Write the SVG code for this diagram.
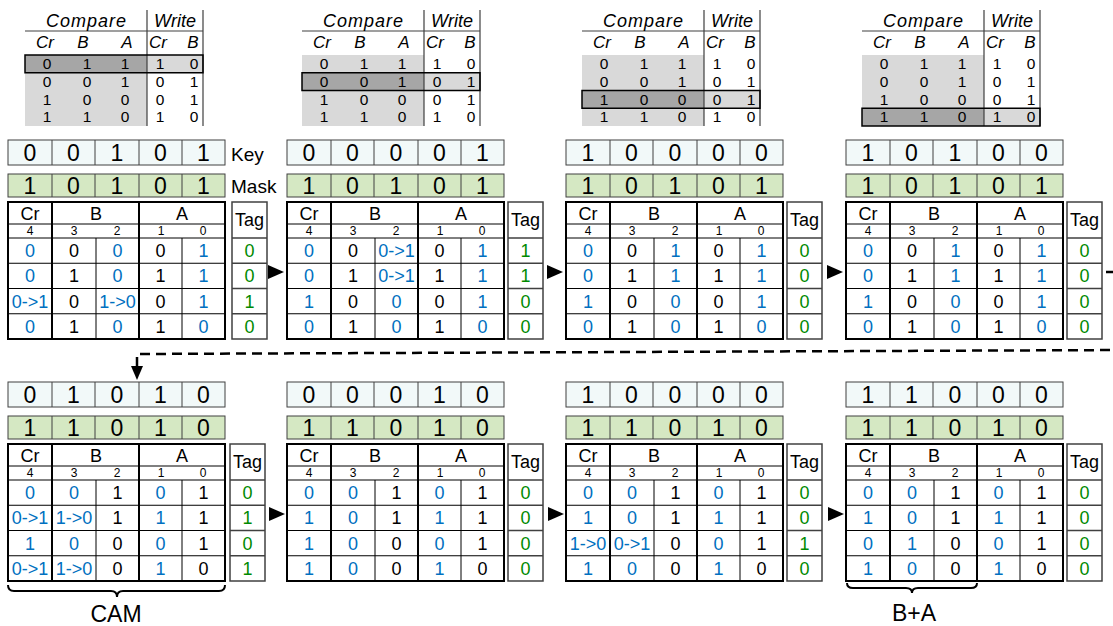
<svg xmlns="http://www.w3.org/2000/svg" width="1113" height="626" viewBox="0 0 1113 626">
<style>
text{font-family:'Liberation Sans',Arial,sans-serif;text-anchor:middle;fill:#000}
.kd{font-size:23px}
.h{font-size:18px}
.bn{font-size:12px}
.d{font-size:18px}
.td{font-size:15.5px}
.b{fill:#0070c0}
.g{fill:#008a00}
.it{font-style:italic;font-size:18px}
.ih{font-style:italic;font-size:17px}
.tt{font-size:18px}
.lbl{font-size:19px;text-anchor:start}
.big{font-size:23px}
.kbox{fill:#f2f9f9;stroke:#404040;stroke-width:1}
.mbox{fill:#d5e8c3;stroke:#404040;stroke-width:1}
.cell{stroke:#404040;stroke-width:1;fill:none}
.thin{stroke:#000;stroke-width:1;fill:none}
.thick{stroke:#000;stroke-width:2;fill:none}
.tagbox{fill:#fff;stroke:#404040;stroke-width:1.5}
.ttl{stroke:#404040;stroke-width:1.2;fill:none}
.arr{fill:#000}
.dash{stroke:#000;stroke-width:2.5;fill:none;stroke-dasharray:10 6}
.brace{stroke:#000;stroke-width:2;fill:none}
</style>
<defs>
<g id="frame">
<rect x="0" y="0" width="217" height="25" class="kbox"/>
<path d="M44,0V25M87,0V25M131,0V25M174,0V25" class="cell"/>
<rect x="0" y="34" width="217" height="23" class="mbox"/>
<path d="M44,34V57M87,34V57M131,34V57M174,34V57" class="cell"/>
<rect x="0" y="62" width="217" height="137" fill="#fff"/>
<path d="M0,84H217M0,98H217M0,123.25H217M0,148.5H217M0,173.75H217M88,98V199M174,98V199" class="thin"/>
<path d="M44,62V199M131,62V199" class="thick"/>
<rect x="0" y="62" width="217" height="137" class="thick"/>
</g>
<g id="tag">
<rect x="0" y="62" width="35" height="137" class="tagbox"/>
<path d="M0,98H35M0,123.25H35M0,148.5H35M0,173.75H35" class="tagbox"/>
</g>
<g id="tt">
<path d="M0,31H178" class="ttl"/>
<rect x="0" y="55" width="122" height="71" fill="#d9d9d9"/>
</g>
<g id="ttlines">
<path d="M122,10V126M178,10V126" class="ttl"/>
</g>
</defs>

<!-- truth tables -->
<g id="tt1" transform="translate(25,0)">
<use href="#tt"/>
<rect x="0" y="55" width="122" height="17.75" fill="#a6a6a6"/><rect x="122" y="55" width="56" height="17.75" fill="#d9d9d9"/>
<use href="#ttlines"/>
<rect x="0" y="55" width="178" height="17.75" fill="none" stroke="#000" stroke-width="1.5"/>
<text class="it" x="61" y="27" textLength="80">Compare</text><text class="it" x="150" y="27">Write</text>
<text class="ih" x="20" y="48">Cr</text><text class="ih" x="58" y="48">B</text><text class="ih" x="102" y="48">A</text><text class="ih" x="133" y="48">Cr</text><text class="ih" x="168" y="48">B</text>
<text class="td" x="22" y="69">0</text><text class="td" x="62" y="69">1</text><text class="td" x="100" y="69">1</text><text class="td" x="135" y="69">1</text><text class="td" x="169" y="69">0</text>
<text class="td" x="22" y="86.75">0</text><text class="td" x="62" y="86.75">0</text><text class="td" x="100" y="86.75">1</text><text class="td" x="135" y="86.75">0</text><text class="td" x="169" y="86.75">1</text>
<text class="td" x="22" y="104.5">1</text><text class="td" x="62" y="104.5">0</text><text class="td" x="100" y="104.5">0</text><text class="td" x="135" y="104.5">0</text><text class="td" x="169" y="104.5">1</text>
<text class="td" x="22" y="122.25">1</text><text class="td" x="62" y="122.25">1</text><text class="td" x="100" y="122.25">0</text><text class="td" x="135" y="122.25">1</text><text class="td" x="169" y="122.25">0</text>
</g>
<g id="tt2" transform="translate(302,0)">
<use href="#tt"/>
<rect x="0" y="72.75" width="122" height="17.75" fill="#a6a6a6"/><rect x="122" y="72.75" width="56" height="17.75" fill="#d9d9d9"/>
<use href="#ttlines"/>
<rect x="0" y="72.75" width="178" height="17.75" fill="none" stroke="#000" stroke-width="1.5"/>
<text class="it" x="61" y="27" textLength="80">Compare</text><text class="it" x="150" y="27">Write</text>
<text class="ih" x="20" y="48">Cr</text><text class="ih" x="58" y="48">B</text><text class="ih" x="102" y="48">A</text><text class="ih" x="133" y="48">Cr</text><text class="ih" x="168" y="48">B</text>
<text class="td" x="22" y="69">0</text><text class="td" x="62" y="69">1</text><text class="td" x="100" y="69">1</text><text class="td" x="135" y="69">1</text><text class="td" x="169" y="69">0</text>
<text class="td" x="22" y="86.75">0</text><text class="td" x="62" y="86.75">0</text><text class="td" x="100" y="86.75">1</text><text class="td" x="135" y="86.75">0</text><text class="td" x="169" y="86.75">1</text>
<text class="td" x="22" y="104.5">1</text><text class="td" x="62" y="104.5">0</text><text class="td" x="100" y="104.5">0</text><text class="td" x="135" y="104.5">0</text><text class="td" x="169" y="104.5">1</text>
<text class="td" x="22" y="122.25">1</text><text class="td" x="62" y="122.25">1</text><text class="td" x="100" y="122.25">0</text><text class="td" x="135" y="122.25">1</text><text class="td" x="169" y="122.25">0</text>
</g>
<g id="tt3" transform="translate(582,0)">
<use href="#tt"/>
<rect x="0" y="90.5" width="122" height="17.75" fill="#a6a6a6"/><rect x="122" y="90.5" width="56" height="17.75" fill="#d9d9d9"/>
<use href="#ttlines"/>
<rect x="0" y="90.5" width="178" height="17.75" fill="none" stroke="#000" stroke-width="1.5"/>
<text class="it" x="61" y="27" textLength="80">Compare</text><text class="it" x="150" y="27">Write</text>
<text class="ih" x="20" y="48">Cr</text><text class="ih" x="58" y="48">B</text><text class="ih" x="102" y="48">A</text><text class="ih" x="133" y="48">Cr</text><text class="ih" x="168" y="48">B</text>
<text class="td" x="22" y="69">0</text><text class="td" x="62" y="69">1</text><text class="td" x="100" y="69">1</text><text class="td" x="135" y="69">1</text><text class="td" x="169" y="69">0</text>
<text class="td" x="22" y="86.75">0</text><text class="td" x="62" y="86.75">0</text><text class="td" x="100" y="86.75">1</text><text class="td" x="135" y="86.75">0</text><text class="td" x="169" y="86.75">1</text>
<text class="td" x="22" y="104.5">1</text><text class="td" x="62" y="104.5">0</text><text class="td" x="100" y="104.5">0</text><text class="td" x="135" y="104.5">0</text><text class="td" x="169" y="104.5">1</text>
<text class="td" x="22" y="122.25">1</text><text class="td" x="62" y="122.25">1</text><text class="td" x="100" y="122.25">0</text><text class="td" x="135" y="122.25">1</text><text class="td" x="169" y="122.25">0</text>
</g>
<g id="tt4" transform="translate(862,0)">
<use href="#tt"/>
<rect x="0" y="108.25" width="122" height="17.75" fill="#a6a6a6"/><rect x="122" y="108.25" width="56" height="17.75" fill="#d9d9d9"/>
<use href="#ttlines"/>
<rect x="0" y="108.25" width="178" height="17.75" fill="none" stroke="#000" stroke-width="1.5"/>
<text class="it" x="61" y="27" textLength="80">Compare</text><text class="it" x="150" y="27">Write</text>
<text class="ih" x="20" y="48">Cr</text><text class="ih" x="58" y="48">B</text><text class="ih" x="102" y="48">A</text><text class="ih" x="133" y="48">Cr</text><text class="ih" x="168" y="48">B</text>
<text class="td" x="22" y="69">0</text><text class="td" x="62" y="69">1</text><text class="td" x="100" y="69">1</text><text class="td" x="135" y="69">1</text><text class="td" x="169" y="69">0</text>
<text class="td" x="22" y="86.75">0</text><text class="td" x="62" y="86.75">0</text><text class="td" x="100" y="86.75">1</text><text class="td" x="135" y="86.75">0</text><text class="td" x="169" y="86.75">1</text>
<text class="td" x="22" y="104.5">1</text><text class="td" x="62" y="104.5">0</text><text class="td" x="100" y="104.5">0</text><text class="td" x="135" y="104.5">0</text><text class="td" x="169" y="104.5">1</text>
<text class="td" x="22" y="122.25">1</text><text class="td" x="62" y="122.25">1</text><text class="td" x="100" y="122.25">0</text><text class="td" x="135" y="122.25">1</text><text class="td" x="169" y="122.25">0</text>
</g>

<!-- panel 1 -->
<g id="p1" transform="translate(8,140)">
<use href="#frame"/><use href="#tag" x="224"/>
<text class="lbl" x="223" y="21">Key</text><text class="lbl" x="223" y="53">Mask</text>
<text class="kd" x="22" y="21">0</text><text class="kd" x="65.5" y="21">0</text><text class="kd" x="109" y="21">1</text><text class="kd" x="152.5" y="21">0</text><text class="kd" x="195.5" y="21">1</text>
<text class="kd" x="22" y="54">1</text><text class="kd" x="65.5" y="54">0</text><text class="kd" x="109" y="54">1</text><text class="kd" x="152.5" y="54">0</text><text class="kd" x="195.5" y="54">1</text>
<text class="h" x="22" y="80">Cr</text><text class="h" x="88" y="80">B</text><text class="h" x="174" y="80">A</text>
<text class="bn" x="22" y="95">4</text><text class="bn" x="66" y="95">3</text><text class="bn" x="109" y="95">2</text><text class="bn" x="153" y="95">1</text><text class="bn" x="195" y="95">0</text>
<text class="tt" x="241.5" y="86">Tag</text>
<text class="d b" x="22" y="117">0</text><text class="d" x="66" y="117">0</text><text class="d b" x="109.5" y="117">0</text><text class="d" x="152.5" y="117">0</text><text class="d b" x="195.5" y="117">1</text><text class="d g" x="241.5" y="117">0</text>
<text class="d b" x="22" y="142">0</text><text class="d" x="66" y="142">1</text><text class="d b" x="109.5" y="142">0</text><text class="d" x="152.5" y="142">1</text><text class="d b" x="195.5" y="142">1</text><text class="d g" x="241.5" y="142">0</text>
<text class="d b" x="22" y="167.5">0-&gt;1</text><text class="d" x="66" y="167.5">0</text><text class="d b" x="109.5" y="167.5">1-&gt;0</text><text class="d" x="152.5" y="167.5">0</text><text class="d b" x="195.5" y="167.5">1</text><text class="d g" x="241.5" y="167.5">1</text>
<text class="d b" x="22" y="192.5">0</text><text class="d" x="66" y="192.5">1</text><text class="d b" x="109.5" y="192.5">0</text><text class="d" x="152.5" y="192.5">1</text><text class="d b" x="195.5" y="192.5">0</text><text class="d g" x="241.5" y="192.5">0</text>
</g>

<!-- panel 2 -->
<g id="p2" transform="translate(287,140)">
<use href="#frame"/><use href="#tag" x="221"/>
<text class="kd" x="22" y="21">0</text><text class="kd" x="65.5" y="21">0</text><text class="kd" x="109" y="21">0</text><text class="kd" x="152.5" y="21">0</text><text class="kd" x="195.5" y="21">1</text>
<text class="kd" x="22" y="54">1</text><text class="kd" x="65.5" y="54">0</text><text class="kd" x="109" y="54">1</text><text class="kd" x="152.5" y="54">0</text><text class="kd" x="195.5" y="54">1</text>
<text class="h" x="22" y="80">Cr</text><text class="h" x="88" y="80">B</text><text class="h" x="174" y="80">A</text>
<text class="bn" x="22" y="95">4</text><text class="bn" x="66" y="95">3</text><text class="bn" x="109" y="95">2</text><text class="bn" x="153" y="95">1</text><text class="bn" x="195" y="95">0</text>
<text class="tt" x="238.5" y="86">Tag</text>
<text class="d b" x="22" y="117">0</text><text class="d" x="66" y="117">0</text><text class="d b" x="109.5" y="117">0-&gt;1</text><text class="d" x="152.5" y="117">0</text><text class="d b" x="195.5" y="117">1</text><text class="d g" x="238.5" y="117">1</text>
<text class="d b" x="22" y="142">0</text><text class="d" x="66" y="142">1</text><text class="d b" x="109.5" y="142">0-&gt;1</text><text class="d" x="152.5" y="142">1</text><text class="d b" x="195.5" y="142">1</text><text class="d g" x="238.5" y="142">1</text>
<text class="d b" x="22" y="167.5">1</text><text class="d" x="66" y="167.5">0</text><text class="d b" x="109.5" y="167.5">0</text><text class="d" x="152.5" y="167.5">0</text><text class="d b" x="195.5" y="167.5">1</text><text class="d g" x="238.5" y="167.5">0</text>
<text class="d b" x="22" y="192.5">0</text><text class="d" x="66" y="192.5">1</text><text class="d b" x="109.5" y="192.5">0</text><text class="d" x="152.5" y="192.5">1</text><text class="d b" x="195.5" y="192.5">0</text><text class="d g" x="238.5" y="192.5">0</text>
</g>

<!-- panel 3 -->
<g id="p3" transform="translate(566,140)">
<use href="#frame"/><use href="#tag" x="221"/>
<text class="kd" x="22" y="21">1</text><text class="kd" x="65.5" y="21">0</text><text class="kd" x="109" y="21">0</text><text class="kd" x="152.5" y="21">0</text><text class="kd" x="195.5" y="21">0</text>
<text class="kd" x="22" y="54">1</text><text class="kd" x="65.5" y="54">0</text><text class="kd" x="109" y="54">1</text><text class="kd" x="152.5" y="54">0</text><text class="kd" x="195.5" y="54">1</text>
<text class="h" x="22" y="80">Cr</text><text class="h" x="88" y="80">B</text><text class="h" x="174" y="80">A</text>
<text class="bn" x="22" y="95">4</text><text class="bn" x="66" y="95">3</text><text class="bn" x="109" y="95">2</text><text class="bn" x="153" y="95">1</text><text class="bn" x="195" y="95">0</text>
<text class="tt" x="238.5" y="86">Tag</text>
<text class="d b" x="22" y="117">0</text><text class="d" x="66" y="117">0</text><text class="d b" x="109.5" y="117">1</text><text class="d" x="152.5" y="117">0</text><text class="d b" x="195.5" y="117">1</text><text class="d g" x="238.5" y="117">0</text>
<text class="d b" x="22" y="142">0</text><text class="d" x="66" y="142">1</text><text class="d b" x="109.5" y="142">1</text><text class="d" x="152.5" y="142">1</text><text class="d b" x="195.5" y="142">1</text><text class="d g" x="238.5" y="142">0</text>
<text class="d b" x="22" y="167.5">1</text><text class="d" x="66" y="167.5">0</text><text class="d b" x="109.5" y="167.5">0</text><text class="d" x="152.5" y="167.5">0</text><text class="d b" x="195.5" y="167.5">1</text><text class="d g" x="238.5" y="167.5">0</text>
<text class="d b" x="22" y="192.5">0</text><text class="d" x="66" y="192.5">1</text><text class="d b" x="109.5" y="192.5">0</text><text class="d" x="152.5" y="192.5">1</text><text class="d b" x="195.5" y="192.5">0</text><text class="d g" x="238.5" y="192.5">0</text>
</g>

<!-- panel 4 -->
<g id="p4" transform="translate(846,140)">
<use href="#frame"/><use href="#tag" x="221"/>
<text class="kd" x="22" y="21">1</text><text class="kd" x="65.5" y="21">0</text><text class="kd" x="109" y="21">1</text><text class="kd" x="152.5" y="21">0</text><text class="kd" x="195.5" y="21">0</text>
<text class="kd" x="22" y="54">1</text><text class="kd" x="65.5" y="54">0</text><text class="kd" x="109" y="54">1</text><text class="kd" x="152.5" y="54">0</text><text class="kd" x="195.5" y="54">1</text>
<text class="h" x="22" y="80">Cr</text><text class="h" x="88" y="80">B</text><text class="h" x="174" y="80">A</text>
<text class="bn" x="22" y="95">4</text><text class="bn" x="66" y="95">3</text><text class="bn" x="109" y="95">2</text><text class="bn" x="153" y="95">1</text><text class="bn" x="195" y="95">0</text>
<text class="tt" x="238.5" y="86">Tag</text>
<text class="d b" x="22" y="117">0</text><text class="d" x="66" y="117">0</text><text class="d b" x="109.5" y="117">1</text><text class="d" x="152.5" y="117">0</text><text class="d b" x="195.5" y="117">1</text><text class="d g" x="238.5" y="117">0</text>
<text class="d b" x="22" y="142">0</text><text class="d" x="66" y="142">1</text><text class="d b" x="109.5" y="142">1</text><text class="d" x="152.5" y="142">1</text><text class="d b" x="195.5" y="142">1</text><text class="d g" x="238.5" y="142">0</text>
<text class="d b" x="22" y="167.5">1</text><text class="d" x="66" y="167.5">0</text><text class="d b" x="109.5" y="167.5">0</text><text class="d" x="152.5" y="167.5">0</text><text class="d b" x="195.5" y="167.5">1</text><text class="d g" x="238.5" y="167.5">0</text>
<text class="d b" x="22" y="192.5">0</text><text class="d" x="66" y="192.5">1</text><text class="d b" x="109.5" y="192.5">0</text><text class="d" x="152.5" y="192.5">1</text><text class="d b" x="195.5" y="192.5">0</text><text class="d g" x="238.5" y="192.5">0</text>
</g>

<!-- panel 5 -->
<g id="p5" transform="translate(8,382)">
<use href="#frame"/><use href="#tag" x="222"/>
<text class="kd" x="22" y="21">0</text><text class="kd" x="65.5" y="21">1</text><text class="kd" x="109" y="21">0</text><text class="kd" x="152.5" y="21">1</text><text class="kd" x="195.5" y="21">0</text>
<text class="kd" x="22" y="54">1</text><text class="kd" x="65.5" y="54">1</text><text class="kd" x="109" y="54">0</text><text class="kd" x="152.5" y="54">1</text><text class="kd" x="195.5" y="54">0</text>
<text class="h" x="22" y="80">Cr</text><text class="h" x="88" y="80">B</text><text class="h" x="174" y="80">A</text>
<text class="bn" x="22" y="95">4</text><text class="bn" x="66" y="95">3</text><text class="bn" x="109" y="95">2</text><text class="bn" x="153" y="95">1</text><text class="bn" x="195" y="95">0</text>
<text class="tt" x="239.5" y="86">Tag</text>
<text class="d b" x="22" y="117">0</text><text class="d b" x="66" y="117">0</text><text class="d" x="109.5" y="117">1</text><text class="d b" x="152.5" y="117">0</text><text class="d" x="195.5" y="117">1</text><text class="d g" x="239.5" y="117">0</text>
<text class="d b" x="22" y="142">0-&gt;1</text><text class="d b" x="66" y="142">1-&gt;0</text><text class="d" x="109.5" y="142">1</text><text class="d b" x="152.5" y="142">1</text><text class="d" x="195.5" y="142">1</text><text class="d g" x="239.5" y="142">1</text>
<text class="d b" x="22" y="167.5">1</text><text class="d b" x="66" y="167.5">0</text><text class="d" x="109.5" y="167.5">0</text><text class="d b" x="152.5" y="167.5">0</text><text class="d" x="195.5" y="167.5">1</text><text class="d g" x="239.5" y="167.5">0</text>
<text class="d b" x="22" y="192.5">0-&gt;1</text><text class="d b" x="66" y="192.5">1-&gt;0</text><text class="d" x="109.5" y="192.5">0</text><text class="d b" x="152.5" y="192.5">1</text><text class="d" x="195.5" y="192.5">0</text><text class="d g" x="239.5" y="192.5">1</text>
<path class="brace" d="M0,203 Q0,209 6,209 L103,209 Q109,209 109,215 Q109,209 115,209 L211,209 Q217,209 217,203"/>
<text class="big" x="108" y="240">CAM</text>
</g>

<!-- panel 6 -->
<g id="p6" transform="translate(287,382)">
<use href="#frame"/><use href="#tag" x="221"/>
<text class="kd" x="22" y="21">0</text><text class="kd" x="65.5" y="21">0</text><text class="kd" x="109" y="21">0</text><text class="kd" x="152.5" y="21">1</text><text class="kd" x="195.5" y="21">0</text>
<text class="kd" x="22" y="54">1</text><text class="kd" x="65.5" y="54">1</text><text class="kd" x="109" y="54">0</text><text class="kd" x="152.5" y="54">1</text><text class="kd" x="195.5" y="54">0</text>
<text class="h" x="22" y="80">Cr</text><text class="h" x="88" y="80">B</text><text class="h" x="174" y="80">A</text>
<text class="bn" x="22" y="95">4</text><text class="bn" x="66" y="95">3</text><text class="bn" x="109" y="95">2</text><text class="bn" x="153" y="95">1</text><text class="bn" x="195" y="95">0</text>
<text class="tt" x="238.5" y="86">Tag</text>
<text class="d b" x="22" y="117">0</text><text class="d b" x="66" y="117">0</text><text class="d" x="109.5" y="117">1</text><text class="d b" x="152.5" y="117">0</text><text class="d" x="195.5" y="117">1</text><text class="d g" x="238.5" y="117">0</text>
<text class="d b" x="22" y="142">1</text><text class="d b" x="66" y="142">0</text><text class="d" x="109.5" y="142">1</text><text class="d b" x="152.5" y="142">1</text><text class="d" x="195.5" y="142">1</text><text class="d g" x="238.5" y="142">0</text>
<text class="d b" x="22" y="167.5">1</text><text class="d b" x="66" y="167.5">0</text><text class="d" x="109.5" y="167.5">0</text><text class="d b" x="152.5" y="167.5">0</text><text class="d" x="195.5" y="167.5">1</text><text class="d g" x="238.5" y="167.5">0</text>
<text class="d b" x="22" y="192.5">1</text><text class="d b" x="66" y="192.5">0</text><text class="d" x="109.5" y="192.5">0</text><text class="d b" x="152.5" y="192.5">1</text><text class="d" x="195.5" y="192.5">0</text><text class="d g" x="238.5" y="192.5">0</text>
</g>

<!-- panel 7 -->
<g id="p7" transform="translate(566,382)">
<use href="#frame"/><use href="#tag" x="221"/>
<text class="kd" x="22" y="21">1</text><text class="kd" x="65.5" y="21">0</text><text class="kd" x="109" y="21">0</text><text class="kd" x="152.5" y="21">0</text><text class="kd" x="195.5" y="21">0</text>
<text class="kd" x="22" y="54">1</text><text class="kd" x="65.5" y="54">1</text><text class="kd" x="109" y="54">0</text><text class="kd" x="152.5" y="54">1</text><text class="kd" x="195.5" y="54">0</text>
<text class="h" x="22" y="80">Cr</text><text class="h" x="88" y="80">B</text><text class="h" x="174" y="80">A</text>
<text class="bn" x="22" y="95">4</text><text class="bn" x="66" y="95">3</text><text class="bn" x="109" y="95">2</text><text class="bn" x="153" y="95">1</text><text class="bn" x="195" y="95">0</text>
<text class="tt" x="238.5" y="86">Tag</text>
<text class="d b" x="22" y="117">0</text><text class="d b" x="66" y="117">0</text><text class="d" x="109.5" y="117">1</text><text class="d b" x="152.5" y="117">0</text><text class="d" x="195.5" y="117">1</text><text class="d g" x="238.5" y="117">0</text>
<text class="d b" x="22" y="142">1</text><text class="d b" x="66" y="142">0</text><text class="d" x="109.5" y="142">1</text><text class="d b" x="152.5" y="142">1</text><text class="d" x="195.5" y="142">1</text><text class="d g" x="238.5" y="142">0</text>
<text class="d b" x="22" y="167.5">1-&gt;0</text><text class="d b" x="66" y="167.5">0-&gt;1</text><text class="d" x="109.5" y="167.5">0</text><text class="d b" x="152.5" y="167.5">0</text><text class="d" x="195.5" y="167.5">1</text><text class="d g" x="238.5" y="167.5">1</text>
<text class="d b" x="22" y="192.5">1</text><text class="d b" x="66" y="192.5">0</text><text class="d" x="109.5" y="192.5">0</text><text class="d b" x="152.5" y="192.5">1</text><text class="d" x="195.5" y="192.5">0</text><text class="d g" x="238.5" y="192.5">0</text>
</g>

<!-- panel 8 -->
<g id="p8" transform="translate(846,382)">
<use href="#frame"/><use href="#tag" x="221"/>
<text class="kd" x="22" y="21">1</text><text class="kd" x="65.5" y="21">1</text><text class="kd" x="109" y="21">0</text><text class="kd" x="152.5" y="21">0</text><text class="kd" x="195.5" y="21">0</text>
<text class="kd" x="22" y="54">1</text><text class="kd" x="65.5" y="54">1</text><text class="kd" x="109" y="54">0</text><text class="kd" x="152.5" y="54">1</text><text class="kd" x="195.5" y="54">0</text>
<text class="h" x="22" y="80">Cr</text><text class="h" x="88" y="80">B</text><text class="h" x="174" y="80">A</text>
<text class="bn" x="22" y="95">4</text><text class="bn" x="66" y="95">3</text><text class="bn" x="109" y="95">2</text><text class="bn" x="153" y="95">1</text><text class="bn" x="195" y="95">0</text>
<text class="tt" x="238.5" y="86">Tag</text>
<text class="d b" x="22" y="117">0</text><text class="d b" x="66" y="117">0</text><text class="d" x="109.5" y="117">1</text><text class="d b" x="152.5" y="117">0</text><text class="d" x="195.5" y="117">1</text><text class="d g" x="238.5" y="117">0</text>
<text class="d b" x="22" y="142">1</text><text class="d b" x="66" y="142">0</text><text class="d" x="109.5" y="142">1</text><text class="d b" x="152.5" y="142">1</text><text class="d" x="195.5" y="142">1</text><text class="d g" x="238.5" y="142">0</text>
<text class="d b" x="22" y="167.5">0</text><text class="d b" x="66" y="167.5">1</text><text class="d" x="109.5" y="167.5">0</text><text class="d b" x="152.5" y="167.5">0</text><text class="d" x="195.5" y="167.5">1</text><text class="d g" x="238.5" y="167.5">0</text>
<text class="d b" x="22" y="192.5">1</text><text class="d b" x="66" y="192.5">0</text><text class="d" x="109.5" y="192.5">0</text><text class="d b" x="152.5" y="192.5">1</text><text class="d" x="195.5" y="192.5">0</text><text class="d g" x="238.5" y="192.5">0</text>
<path class="brace" d="M1,201 Q1,206 7,206 L60,206 Q66,206 66,211 Q66,206 72,206 L125,206 Q131,206 131,201"/>
<text class="big" x="68" y="239">B+A</text>
</g>

<!-- connectors -->
<g id="connectors">
<polygon class="arr" points="268,265 268,279 284,272"/>
<polygon class="arr" points="547,265 547,279 563,272"/>
<polygon class="arr" points="827,265 827,279 843,272"/>
<polygon class="arr" points="269,507 269,521 285,514"/>
<polygon class="arr" points="548,507 548,521 564,514"/>
<polygon class="arr" points="828,507 828,521 844,514"/>
<polyline class="dash" points="1106,272 1125,272 1125,350 137,354 137,367"/>
<polygon class="arr" points="131,366 143,366 137,380"/>
</g>
</svg>
